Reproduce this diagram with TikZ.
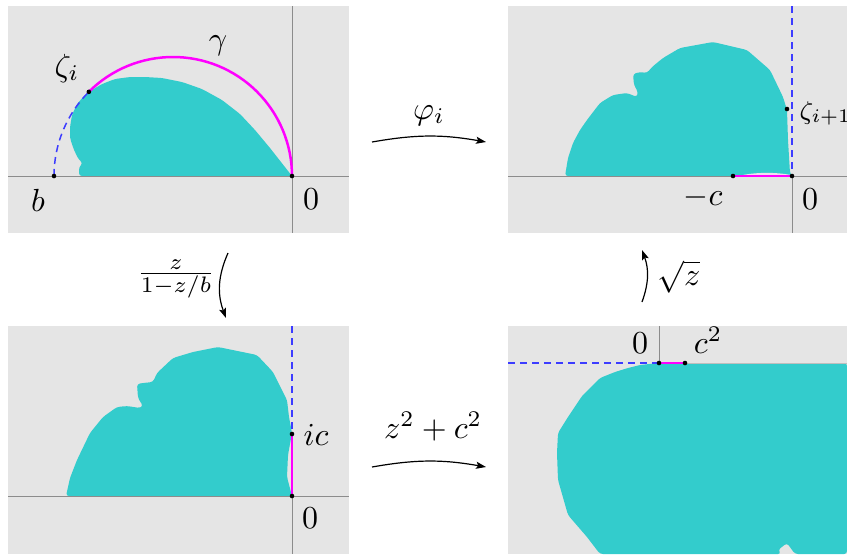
\documentclass[tikz,border=0pt]{standalone}
\usetikzlibrary{arrows.meta}
\definecolor{bg}{RGB}{229,229,229}
\definecolor{shapecol}{RGB}{51,204,204}
\definecolor{axisgray}{RGB}{140,140,140}
\definecolor{lightaxis}{RGB}{190,190,190}
\definecolor{dashblue}{RGB}{60,60,255}
\definecolor{mag}{RGB}{255,0,255}
\definecolor{sliver}{RGB}{240,225,240}
\tikzset{
  panel/.style={fill=bg},
  region/.style={fill=shapecol, rounded corners=0.9pt},
  axisline/.style={draw=axisgray, line width=0.31pt},
  cutline/.style={draw=dashblue, line width=0.47pt, dash pattern=on 2.2pt off 1.56pt},
  imgline/.style={draw=mag, line width=0.78pt},
  lab/.style={inner sep=0pt, font=\normalsize},
  maparrow/.style={-{Stealth[length=3.1pt,width=2.2pt,inset=0.6pt]}, line width=0.375pt},
}
\newcommand{\dotat}[1]{\fill (#1) circle[radius=0.72pt];}
\begin{document}
\begin{tikzpicture}[x=0.3125pt,y=-0.3125pt]
\useasboundingbox (0,0) rectangle (847,554);

% ---------- panels ----------
\fill[panel] (8,6) rectangle (349,233);
\fill[panel] (508,6) rectangle (847,233);
\fill[panel] (8,326) rectangle (349,554);
\fill[panel] (508,326) rectangle (847,554);

% ---------- top left ----------
\fill[region] (79,176) -- (79,167) -- (83,163) -- (79,160) -- (74,150) -- (70,138)
  -- (70,127) -- (72,115) -- (77,104) -- (84,96) -- (92,90) -- (102,84) -- (115,79)
  -- (130,77) -- (145,77) -- (162,78) -- (182,82) -- (202,89) -- (222,100) -- (240,114)
  -- (255,130) -- (270,148) -- (292,176) -- cycle;
\coordinate (TLl) at (8,176);   \coordinate (TLr) at (349,176);
\coordinate (TLt) at (292,6);   \coordinate (TLb) at (292,233);
\draw[axisline] (TLl) -- (TLr);
\draw[axisline] (TLt) -- (TLb);
\coordinate (b) at (54,176);
\coordinate (zi) at (88.85,91.85);
\coordinate (o1) at (292,176);
\draw[cutline] (b) arc[start angle=180, end angle=135, radius=37.1875pt];
\draw[imgline] (zi) arc[start angle=135, end angle=0, radius=37.1875pt];
\dotat{b} \dotat{zi} \dotat{o1}
\node[lab, anchor=base] (lb) at (38,211) {$b$};
\node[lab, anchor=base] (lo1) at (311,209) {$0$};
\node[lab, anchor=base] (lzi) at (67,76) {$\zeta_i$};
\node[lab, anchor=base] (lgam) at (218,49) {$\gamma$};

% ---------- top right ----------
\fill[region] (565,176) -- (568,158) -- (573,143) -- (580,130) -- (587,120) -- (600,103)
  -- (613,95) -- (627,93) -- (637,97) -- (638,92) -- (634,85) -- (633,74) -- (640,72)
  -- (647,73) -- (652,67) -- (663,58) -- (680,48) -- (713,42) -- (747,50) -- (770,70)
  -- (783,97) -- (787,110) -- (788,140) -- (790,173) -- (792,176) -- cycle;
\fill[sliver] (738,176) .. controls (755,172) and (775,172) .. (791,175) -- (791,176) -- cycle;
\coordinate (TRl) at (508,176);  \coordinate (TRr) at (847,176);
\coordinate (TRt) at (792,6);    \coordinate (TRb) at (792,233);
\coordinate (mc) at (733,176);
\coordinate (o2) at (792,176);
\coordinate (zj) at (787,109);
\draw[axisline] (TRl) -- (TRr);
\draw[axisline] (o2) -- (TRb);
\draw[cutline] (TRt) -- (o2);
\draw[imgline] (mc) -- (o2);
\dotat{mc} \dotat{o2} \dotat{zj}
\node[lab, anchor=base] (lmc) at (703,205) {$-c$};
\node[lab, anchor=base] (lo2) at (810,209) {$0$};
\node[lab, anchor=base west, font=\fontsize{8}{10}\selectfont] (lzj) at (799,119) {$\zeta_{i+1}$};

% ---------- bottom left ----------
\fill[region] (66,496) -- (70,478) -- (77,460) -- (90,433) -- (103,417) -- (117,407)
  -- (127,406) -- (140,408) -- (143,406) -- (138,398) -- (137,384) -- (143,383)
  -- (153,382) -- (157,373) -- (173,358) -- (193,352) -- (218,347) -- (257,355)
  -- (273,372) -- (287,400) -- (289,417) -- (292,433) -- (288,455) -- (287,477)
  -- (292,496) -- cycle;
\coordinate (BLl) at (8,496);   \coordinate (BLr) at (349,496);
\coordinate (BLt) at (292,326); \coordinate (BLb) at (292,554);
\coordinate (ic) at (292,434);
\coordinate (o3) at (292,496);
\draw[axisline] (BLl) -- (BLr);
\draw[axisline] (o3) -- (BLb);
\draw[cutline] (BLt) -- (ic);
\draw[imgline] (ic) -- (o3);
\dotat{ic} \dotat{o3}
\node[lab, anchor=base] (lic) at (316,445) {$ic$};
\node[lab, anchor=base] (lo3) at (310,528) {$0$};

% ---------- bottom right ----------
\fill[region] (600,554) -- (587,537) -- (568,515) -- (558,480) -- (557,453) -- (558,433)
  -- (568,417) -- (582,396) -- (600,378) -- (615,372) -- (628,368) -- (640,365)
  -- (659,363) -- (847,363) -- (847,554) -- (795,554) -- (787,543) -- (778,550)
  -- (781,554) -- cycle;
\coordinate (BRl) at (508,363);  \coordinate (BRr) at (847,363);
\coordinate (BRt) at (659,326);
\coordinate (o4) at (659,363);
\coordinate (c2) at (685,363);
\draw[draw=lightaxis, line width=0.31pt] (c2) -- (BRr);
\draw[axisline] (BRt) -- (o4);
\draw[cutline] (BRl) -- (o4);
\draw[imgline] (o4) -- (c2);
\dotat{o4} \dotat{c2}
\node[lab, anchor=base] (lo4) at (640,353) {$0$};
\node[lab, anchor=base] (lc2) at (708,353) {$c^2$};

% ---------- maps ----------
\coordinate (m1s) at (372,142); \coordinate (m1e) at (486,142);
\draw[maparrow] (m1s) to[bend left=10] (m1e);
\node[lab, anchor=base] (lphi) at (429,119) {$\varphi_i$};

\coordinate (m2s) at (228,253); \coordinate (m2e) at (226,318);
\draw[maparrow] (m2s) to[bend right=22] (m2e);
\node[lab] (lfrac) at (176,279) {$\frac{z}{1-z/b}$};

\coordinate (m3s) at (642,302); \coordinate (m3e) at (642,250);
\draw[maparrow] (m3s) to[bend right=20] (m3e);
\node[lab] (lsqrt) at (679,277) {$\sqrt{z}$};

\coordinate (m4s) at (372,467); \coordinate (m4e) at (486,467);
\draw[maparrow] (m4s) to[bend left=10] (m4e);
\node[lab, anchor=base] (lsq) at (433,438) {$z^2+c^2$};
\end{tikzpicture}
\end{document}
